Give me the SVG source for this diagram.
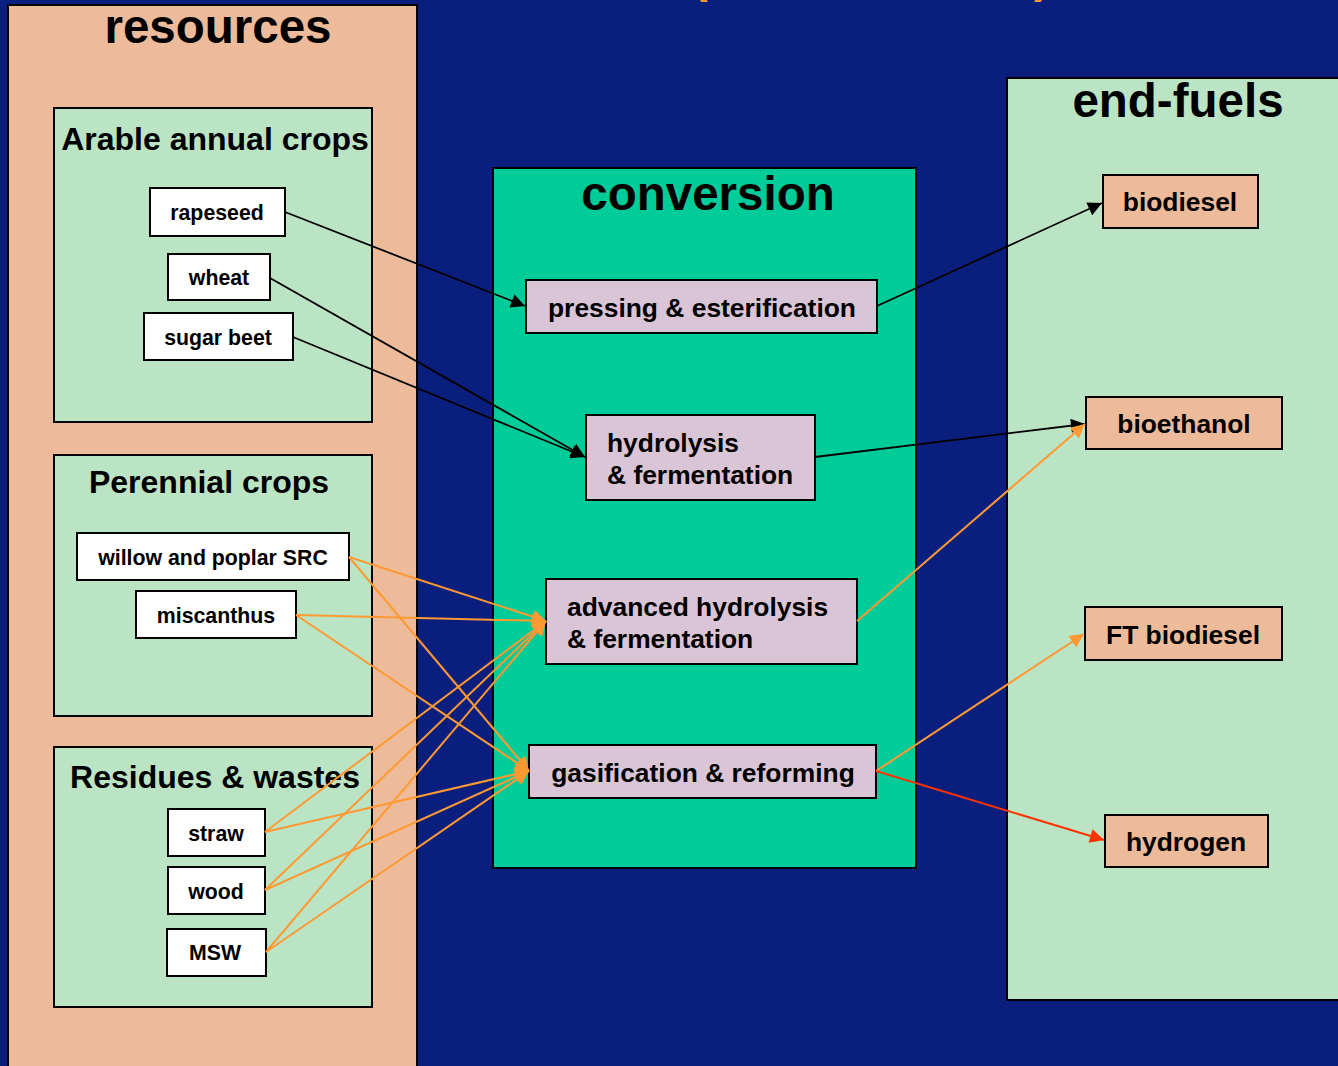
<svg xmlns="http://www.w3.org/2000/svg" width="1338" height="1066" viewBox="0 0 1338 1066">
<defs>
<style>
text{font-family:"Liberation Sans",Arial,sans-serif;font-weight:bold;fill:#000}
.panel{stroke:#000;stroke-width:2}
.peach{fill:#EDBB99}
.green{fill:#BBE4C5}
.teal{fill:#00CC99}
.item{fill:#fff;stroke:#000;stroke-width:2}
.proc{fill:#D9C5D6;stroke:#000;stroke-width:2}
.fuel{fill:#EDBB99;stroke:#000;stroke-width:2}
.big{font-size:47.5px;text-anchor:middle}
.grp{font-size:32px;text-anchor:middle}
.lbl{font-size:21.3px;text-anchor:middle}
.pl{font-size:26.4px}
.c{text-anchor:middle}
.k{stroke:#000;stroke-width:1.8;fill:none}
.o{stroke:#FF9933;stroke-width:2;fill:none}
.r{stroke:#FF3300;stroke-width:2;fill:none}
</style>
<marker id="ak" viewBox="0 0 10 10" refX="10" refY="5" markerUnits="userSpaceOnUse" markerWidth="18" markerHeight="14" orient="auto"><path d="M0,0 L10,5 L0,10 z" fill="#000"/></marker>
<marker id="ao" viewBox="0 0 10 10" refX="10" refY="5" markerUnits="userSpaceOnUse" markerWidth="18" markerHeight="14" orient="auto"><path d="M0,0 L10,5 L0,10 z" fill="#FF9933"/></marker>
<marker id="ar" viewBox="0 0 10 10" refX="10" refY="5" markerUnits="userSpaceOnUse" markerWidth="18" markerHeight="14" orient="auto"><path d="M0,0 L10,5 L0,10 z" fill="#FF3300"/></marker>
</defs>
<rect width="1338" height="1066" fill="#0A1F7D"/>
<text x="692" y="-8" style="font-size:47px;fill:#FF9933">(</text>
<text x="1034" y="-8" style="font-size:47px;fill:#FF9933">)</text>

<g id="resources">
<rect class="panel peach" x="8" y="5" width="409" height="1070"/>
<text class="big" x="218" y="43">resources</text>
</g>
<g id="arable">
<rect class="panel green" x="54" y="108" width="318" height="314"/>
<text class="grp" x="215" y="150">Arable annual crops</text>
</g>
<g id="rapeseed"><rect class="item" x="150" y="188" width="135" height="48"/><text class="lbl" x="217" y="220">rapeseed</text></g>
<g id="wheat"><rect class="item" x="168" y="254" width="102" height="46"/><text class="lbl" x="219" y="285">wheat</text></g>
<g id="sugarbeet"><rect class="item" x="144" y="313" width="149" height="47"/><text class="lbl" x="218" y="345">sugar beet</text></g>

<g id="perennial">
<rect class="panel green" x="54" y="455" width="318" height="261"/>
<text class="grp" x="209" y="493">Perennial crops</text>
</g>
<g id="willow"><rect class="item" x="77" y="533" width="272" height="47"/><text class="lbl" x="213" y="565">willow and poplar SRC</text></g>
<g id="miscanthus"><rect class="item" x="136" y="591" width="160" height="47"/><text class="lbl" x="216" y="623">miscanthus</text></g>

<g id="residues">
<rect class="panel green" x="54" y="747" width="318" height="260"/>
<text class="grp" x="215" y="788">Residues &amp; wastes</text>
</g>
<g id="straw"><rect class="item" x="168" y="809" width="97" height="47"/><text class="lbl" x="216" y="841">straw</text></g>
<g id="wood"><rect class="item" x="168" y="867" width="97" height="47"/><text class="lbl" x="216" y="899">wood</text></g>
<g id="msw"><rect class="item" x="167" y="929" width="99" height="47"/><text class="lbl" x="215" y="960">MSW</text></g>

<g id="conversion">
<rect class="panel teal" x="493" y="168" width="423" height="700"/>
<text class="big" x="708" y="210">conversion</text>
</g>
<g id="pressing"><rect class="proc" x="526" y="280" width="351" height="53"/><text class="pl c" x="702" y="317">pressing &amp; esterification</text></g>
<g id="hydrolysis"><rect class="proc" x="586" y="415" width="229" height="85"/><text class="pl" x="607" y="452">hydrolysis</text><text class="pl" x="607" y="484">&amp; fermentation</text></g>
<g id="advanced"><rect class="proc" x="546" y="579" width="311" height="85"/><text class="pl" x="567" y="616">advanced hydrolysis</text><text class="pl" x="567" y="648">&amp; fermentation</text></g>
<g id="gasification"><rect class="proc" x="529" y="745" width="347" height="53"/><text class="pl c" x="703" y="782">gasification &amp; reforming</text></g>

<g id="endfuels">
<rect class="panel green" x="1007" y="78" width="340" height="922"/>
<text class="big" x="1178" y="117">end-fuels</text>
</g>
<g id="biodiesel"><rect class="fuel" x="1103" y="175" width="155" height="53"/><text class="pl c" x="1180" y="211">biodiesel</text></g>
<g id="bioethanol"><rect class="fuel" x="1086" y="397" width="196" height="52"/><text class="pl c" x="1184" y="433">bioethanol</text></g>
<g id="ftbiodiesel"><rect class="fuel" x="1085" y="607" width="197" height="53"/><text class="pl c" x="1183" y="644">FT biodiesel</text></g>
<g id="hydrogen"><rect class="fuel" x="1105" y="815" width="163" height="52"/><text class="pl c" x="1186" y="851">hydrogen</text></g>

<g id="connectors">
<line class="k" x1="285" y1="212" x2="525" y2="306" marker-end="url(#ak)"/>
<line class="k" x1="270" y1="278" x2="585" y2="457" marker-end="url(#ak)"/>
<line class="k" x1="293" y1="337" x2="585" y2="457" marker-end="url(#ak)"/>
<line class="k" x1="877" y1="306" x2="1102" y2="203" marker-end="url(#ak)"/>
<line class="k" x1="815" y1="457" x2="1085" y2="424" marker-end="url(#ak)"/>

<line class="o" x1="349" y1="557" x2="546" y2="621" marker-end="url(#ao)"/>
<line class="o" x1="349" y1="557" x2="529" y2="771" marker-end="url(#ao)"/>
<line class="o" x1="296" y1="615" x2="546" y2="621" marker-end="url(#ao)"/>
<line class="o" x1="296" y1="615" x2="529" y2="771" marker-end="url(#ao)"/>
<line class="o" x1="265" y1="832" x2="546" y2="621" marker-end="url(#ao)"/>
<line class="o" x1="265" y1="832" x2="529" y2="771" marker-end="url(#ao)"/>
<line class="o" x1="265" y1="890" x2="546" y2="621" marker-end="url(#ao)"/>
<line class="o" x1="265" y1="890" x2="529" y2="771" marker-end="url(#ao)"/>
<line class="o" x1="266" y1="952" x2="546" y2="621" marker-end="url(#ao)"/>
<line class="o" x1="266" y1="952" x2="529" y2="771" marker-end="url(#ao)"/>
<line class="o" x1="857" y1="621" x2="1085" y2="424" marker-end="url(#ao)"/>
<line class="o" x1="876" y1="771" x2="1084" y2="634" marker-end="url(#ao)"/>
<line class="r" x1="876" y1="771" x2="1104" y2="840" marker-end="url(#ar)"/>
</g>
</svg>
